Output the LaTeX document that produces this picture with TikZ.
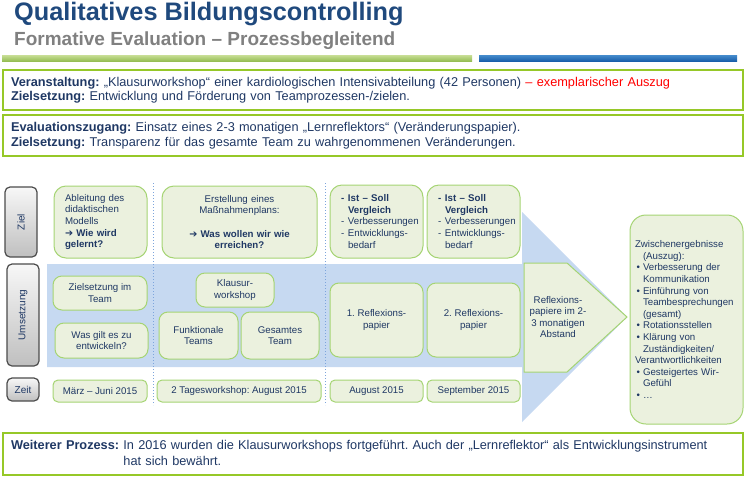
\documentclass[tikz,border=0pt]{standalone}
\usepackage{fontspec}
\setmainfont{Liberation Sans}
\newfontfamily\symfont{DejaVu Sans}
\definecolor{titleblue}{RGB}{31,73,125}
\definecolor{subgray}{RGB}{128,128,128}
\definecolor{navy}{RGB}{31,56,100}
\definecolor{lime}{RGB}{150,200,40}
\definecolor{boxline}{RGB}{165,212,115}
\definecolor{boxfill}{RGB}{235,241,222}
\definecolor{bandblue}{RGB}{198,217,241}
\definecolor{dotblue}{RGB}{125,165,220}
\definecolor{hdrgreenA}{RGB}{200,222,150}
\definecolor{hdrgreenB}{RGB}{150,190,85}
\definecolor{hdrblueA}{RGB}{70,140,205}
\definecolor{hdrblueB}{RGB}{25,95,170}
\definecolor{exred}{RGB}{255,0,0}
\newcommand{\dashitem}{\makebox[7pt][l]{-}}
\newcommand{\bulitem}{\makebox[8pt][l]{\hspace{1.5pt}•}}
\newcommand{\arr}{{\symfont\bfseries ➔}}
\begin{document}
\frenchspacing
\begin{tikzpicture}[x=1pt,y=-1pt,
  gbox/.style={draw=boxline, fill=boxfill, line width=1pt, rounded corners=9pt,
    text=navy, font=\fontsize{9.7}{11.6}\selectfont, align=center, inner sep=1pt},
  topbox/.style={draw=lime, line width=2pt, text=navy, align=left,
    font=\fontsize{12.75}{14.5}\selectfont, inner xsep=8.5pt, inner ysep=0pt, text width=723pt},
  lbl/.style={draw=black!70, line width=1.2pt, rounded corners=5pt, top color=gray!6,
    bottom color=gray!50, inner sep=0pt, minimum width=32pt},
  lbltext/.style={text=navy, font=\fontsize{10}{12}\selectfont},
  dotline/.style={dotblue, line width=1pt, dash pattern=on 1.2pt off 1.8pt}
]
\useasboundingbox (0,0) rectangle (744,477);
% title
\node[anchor=base west, inner sep=0pt, text=titleblue, font=\fontsize{25.3}{28}\selectfont\bfseries] (title) at (14,20) {Qualitatives Bildungscontrolling};
\node[anchor=base west, inner sep=0pt, text=subgray, font=\fontsize{19}{22}\selectfont\bfseries] (subtitle) at (14,45) {Formative Evaluation – Prozessbegleitend};
\shade[top color=hdrgreenA, bottom color=hdrgreenB] (2,55) rectangle (472,61);
\shade[top color=hdrblueA, bottom color=hdrblueB] (479,55) rectangle (737,61);
% top boxes
\node[topbox, minimum height=40pt] (veranst) at (372.5,90) {\textbf{Veranstaltung:} „Klausurworkshop“ einer kardiologischen Intensivabteilung (42 Personen) {\color{exred}– exemplarischer Auszug}\\\textbf{Zielsetzung:} Entwicklung und Förderung von Teamprozessen-/zielen.};
\node[topbox, minimum height=41pt] (evalz) at (372.5,135.5) {\textbf{Evaluationszugang:} Einsatz eines 2-3 monatigen „Lernreflektors“ (Veränderungspapier).\\\textbf{Zielsetzung:} Transparenz für das gesamte Team zu wahrgenommenen Veränderungen.};
% blue arrow band
\fill[bandblue] (47,264) -- (522,264) -- (522,212) -- (627,317) -- (522,422) -- (522,367) -- (47,367) -- cycle;
\draw[dotline] (153,183) -- (153,405);
\draw[dotline] (325,183) -- (325,405);
% left labels
\node[lbl, minimum height=70pt, label={[lbltext, rotate=90]center:Ziel}] (lziel) at (21,222) {};
\node[lbl, minimum height=102pt, label={[lbltext, rotate=90]center:Umsetzung}] (lums) at (23,315) {};
\node[lbl, minimum height=23pt, label={[lbltext]center:Zeit}] (lzeit) at (23,389.5) {};
% Ziel row
\node[gbox, minimum width=93pt, minimum height=72pt, text width=71pt, align=left, rounded corners=12pt] (z1) at (100.5,222)
  {Ableitung des\\didaktischen\\Modells\\\textbf{\arr{} Wie wird}\\\textbf{gelernt?}};
\node[gbox, minimum width=155pt, minimum height=72pt, text width=140pt, rounded corners=12pt] (z2) at (239.5,222)
  {Erstellung eines\\Maßnahmenplans:\\[11.6pt]\textbf{\arr{} Was wollen wir wie}\\\textbf{erreichen?}};
\node[gbox, minimum width=93pt, minimum height=73pt, text width=71pt, align=left, rounded corners=12pt] (z3) at (376.5,221.5)
  {\textbf{\dashitem Ist – Soll}\\\hspace*{7pt}\textbf{Vergleich}\\\dashitem Verbesserungen\\\dashitem Entwicklungs-\\\hspace*{7pt}bedarf};
\node[gbox, minimum width=93pt, minimum height=73pt, text width=71pt, align=left, rounded corners=12pt] (z4) at (473.5,221.5)
  {\textbf{\dashitem Ist – Soll}\\\hspace*{7pt}\textbf{Vergleich}\\\dashitem Verbesserungen\\\dashitem Entwicklungs-\\\hspace*{7pt}bedarf};
% Umsetzung row
\node[gbox, minimum width=94pt, minimum height=34pt] (u1) at (100,293) {Zielsetzung im\\Team};
\node[gbox, minimum width=93pt, minimum height=35pt] (u2) at (101.5,340.5) {Was gilt es zu\\entwickeln?};
\node[gbox, minimum width=78pt, minimum height=34pt] (u3) at (235,290) {Klausur-\\workshop};
\node[gbox, minimum width=79pt, minimum height=47pt] (u4) at (198.5,335.5) {Funktionale\\Teams};
\node[gbox, minimum width=78pt, minimum height=47pt] (u5) at (280,335.5) {Gesamtes\\Team};
\node[gbox, minimum width=93pt, minimum height=74pt] (u6) at (376.5,320) {1. Reflexions-\\papier};
\node[gbox, minimum width=93pt, minimum height=74pt] (u7) at (473.5,320) {2. Reflexions-\\papier};
% Zeit row
\node[gbox, minimum width=94pt, minimum height=22pt, rounded corners=5pt] (t1) at (100,391) {März – Juni 2015};
\node[gbox, minimum width=164pt, minimum height=22pt, rounded corners=5pt] (t2) at (239,391) {2 Tagesworkshop: August 2015};
\node[gbox, minimum width=93pt, minimum height=22pt, rounded corners=5pt] (t3) at (376.5,391) {August 2015};
\node[gbox, minimum width=93pt, minimum height=22pt, rounded corners=5pt] (t4) at (473.5,391) {September 2015};
% pentagon
\draw[draw=boxline, fill=boxfill, line width=1pt] (524,263) -- (567,263) -- (627,317) -- (567,372) -- (524,372) -- cycle;
\node[text=navy, font=\fontsize{9.7}{11.6}\selectfont, align=center, inner sep=0pt] (refl) at (558,317) {Reflexions-\\papiere im 2-\\3 monatigen\\Abstand};
% results
\node[gbox, minimum width=113pt, minimum height=209pt, text width=103pt, align=left, rounded corners=16pt] (res) at (686.5,319.5)
  {Zwischenergebnisse\\\hspace*{8pt}(Auszug):\\\bulitem Verbesserung der\\\hspace*{8pt}Kommunikation\\\bulitem Einführung von\\\hspace*{8pt}Teambesprechungen\\\hspace*{8pt}(gesamt)\\\bulitem Rotationsstellen\\\bulitem Klärung von\\\hspace*{8pt}Zuständigkeiten/\\Verantwortlichkeiten\\\bulitem Gesteigertes Wir-\\\hspace*{8pt}Gefühl\\\bulitem …};
% bottom box
\node[topbox, minimum height=42pt, font=\fontsize{12.75}{16}\selectfont] (weiter) at (372.5,454) {\textbf{Weiterer Prozess:} \begin{tabular}[t]{@{}l@{}}In 2016 wurden die Klausurworkshops fortgeführt. Auch der „Lernreflektor“ als Entwicklungsinstrument\\hat sich bewährt.\end{tabular}};
\end{tikzpicture}
\end{document}
